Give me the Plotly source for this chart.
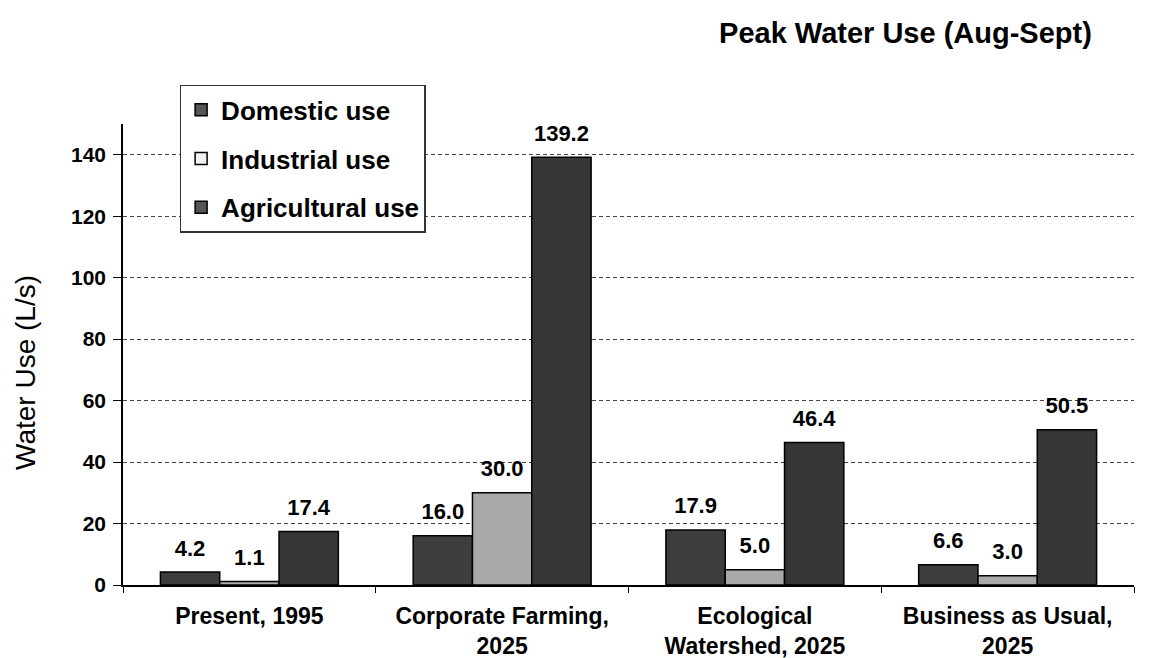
import plotly.graph_objects as go

categories = ["Present, 1995", "Corporate Farming,<br>2025", "Ecological<br>Watershed, 2025", "Business as Usual,<br>2025"]
domestic = [4.2, 16.0, 17.9, 6.6]
industrial = [1.1, 30.0, 5.0, 3.0]
agricultural = [17.4, 139.2, 46.4, 50.5]
series_names = ["Domestic use", "Industrial use", "Agricultural use"]
y_ticks = [0, 20, 40, 60, 80, 100, 120, 140]

FONT = "Arial, Liberation Sans, sans-serif"
colors = ["#3d3d3d", "#a9a9a9", "#363636"]
legend_colors = ["#555555", "#f2f2f2", "#555555"]
BARGAP = 0.296

fig = go.Figure()
for i, (name, vals) in enumerate(zip(series_names, [domestic, industrial, agricultural])):
    fig.add_trace(go.Bar(
        x=categories, y=vals, name=name, legendgroup=name, offsetgroup=name,
        marker=dict(color=colors[i], line=dict(color="black", width=1.5)),
        showlegend=False,
    ))
    # legend proxy sharing the same slot
    fig.add_trace(go.Bar(
        x=[categories[0]], y=[None], name=name, legendgroup=name, offsetgroup=name,
        marker=dict(color=legend_colors[i], line=dict(color="black", width=1.5)),
        showlegend=True, hoverinfo="skip",
    ))
for i, (name, vals) in enumerate(zip(series_names, [domestic, industrial, agricultural])):
    # value labels, grouped like the bars
    fig.add_trace(go.Scatter(
        x=categories, y=vals, mode="markers+text", offsetgroup=name,
        marker=dict(size=16, opacity=0, color="white"),
        text=[f"{v:.1f}" for v in vals], textposition="top center",
        textfont=dict(family=FONT, size=22, color="black", weight="bold"),
        cliponaxis=False, showlegend=False, hoverinfo="skip",
    ))

fig.update_layout(
    width=1161, height=658,
    margin=dict(l=115, r=35, t=116, b=81),
    paper_bgcolor="white", plot_bgcolor="white",
    barmode="group", bargap=BARGAP, bargroupgap=0,
    scattermode="group", scattergap=BARGAP,
    font=dict(family=FONT, color="black"),
    title=dict(text="<b>Peak Water Use (Aug-Sept)</b>", x=0.773, xanchor="center", y=0.962, yanchor="middle",
               font=dict(family=FONT, size=29, color="black")),
    legend=dict(x=0.056, y=1.085, xanchor="left", yanchor="top",
                bordercolor="#333333", borderwidth=1.5, bgcolor="white",
                font=dict(family=FONT, size=26, color="black", weight="bold"),
                tracegroupgap=12, itemwidth=30),
    showlegend=True,
    yaxis2=dict(overlaying="y", side="left", range=[0, 150], tickvals=y_ticks,
                ticks="inside", ticklen=7, tickcolor="black", showticklabels=False,
                showgrid=False, showline=False, zeroline=False),
    annotations=[dict(text="Water Use (L/s)", textangle=-90, xref="paper", yref="paper",
                      x=-0.097, y=0.462, xanchor="center", yanchor="middle", showarrow=False,
                      font=dict(family=FONT, size=28, color="black"))],
)
fig.update_xaxes(
    showline=True, linecolor="black", linewidth=1.5,
    ticks="outside", tickson="boundaries", ticklen=6, tickcolor="black",
    tickfont=dict(family=FONT, size=23, color="black", weight="bold"),
    ticklabelstandoff=10, showgrid=False, automargin=False,
)
fig.update_yaxes(
    range=[0, 150], tickvals=y_ticks,
    showline=True, linecolor="black", linewidth=1.5,
    ticks="outside", ticklen=8, tickcolor="black",
    tickfont=dict(family=FONT, size=21, color="black", weight="bold"),
    ticklabelstandoff=3, automargin=False,
    showgrid=True, gridcolor="#444444", gridwidth=1, griddash="4px,3px",
    zeroline=False,
    selector=dict(overlaying=None),
)

fig.write_html("out.html")
